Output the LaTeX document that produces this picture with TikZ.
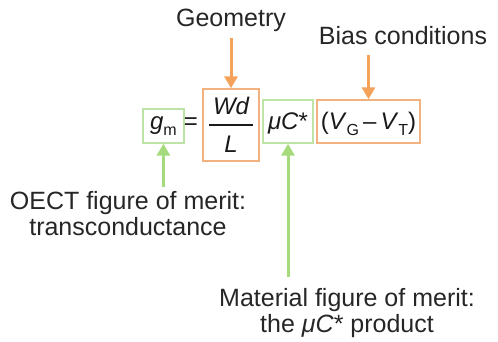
\documentclass[tikz,border=0pt]{standalone}
\usepackage{amsmath}
\usepackage{fontspec}
\setmainfont{Liberation Sans}
\usepackage{tikz}
\usepackage{xcolor}
\usetikzlibrary{arrows.meta,positioning}
\definecolor{eqorange}{HTML}{F4A259}
\definecolor{eqorangebox}{HTML}{F2B27F}
\definecolor{eqgreen}{HTML}{A6DB7D}
\definecolor{eqgreenbox}{HTML}{BDE4A6}
\newcommand{\eqsub}[1]{\raisebox{-6pt}{\fontsize{16}{16}\selectfont #1}}

\begin{document}
\begin{tikzpicture}[x=1pt, y=1pt,
    every node/.style={font=\fontsize{25}{26}\selectfont, inner sep=0pt},
    eqtxt/.style={font=\fontsize{24}{26}\selectfont, text=black!90},
    obox/.style={eqtxt, draw=eqorangebox, line width=1.4pt, align=center},
    gbox/.style={eqtxt, draw=eqgreenbox, line width=1.4pt, align=center},
    lbl/.style={align=center, text=black!85},
    oarr/.style={-{Triangle[width=13pt,length=12pt]}, line width=3pt, color=eqorange},
    garr/.style={-{Triangle[width=13pt,length=12pt]}, line width=3pt, color=eqgreen}
]
  \useasboundingbox (0,0) rectangle (498,341);
  % equation boxes
  \node[gbox, anchor=base, minimum width=41, text height=20, text depth=14] (gm) at (163.4,212) {\textit{g}\eqsub{m}};
  \node[eqtxt, anchor=base] (eq) at (191,212) {=};
  \node[obox, minimum width=56, minimum height=72] (geo) at (231,216) {$\genfrac{}{}{1.8pt}{0}{\textit{\,Wd\,}}{\rule{0pt}{21pt}\textit{L}}$};
  \node[gbox, anchor=base, minimum width=50, text height=29, text depth=14] (mc) at (288,212) {\textit{μC}*};
  \node[obox, anchor=base, minimum width=103, text height=29, text depth=14] (bias) at (368.5,212) {(\textit{V}\eqsub{G}\hspace{4pt}–\hspace{4pt}\textit{V}\eqsub{T})};
  % labels
  \node[lbl] (lblgeo) at (231,321) {Geometry};
  \node[lbl] (lblbias) at (403,305) {Bias conditions};
  \node[lbl] (lbloect) at (128,127) {OECT figure of merit:\\transconductance};
  \node[lbl] (lblmat) at (347,27.5) {Material figure of merit:\\the \textit{μC}* product};
  % arrows
  \draw[oarr] ([yshift=-6pt]lblgeo.south) -- (geo.north);
  \draw[oarr] ([yshift=-10pt]lblbias.south -| bias.north) -- (bias.north);
  \draw[garr] ([yshift=5pt]lbloect.north -| gm.south) -- (gm.south);
  \draw[garr] ([yshift=12pt]lblmat.north -| mc.south) -- (mc.south);
\end{tikzpicture}
\end{document}
